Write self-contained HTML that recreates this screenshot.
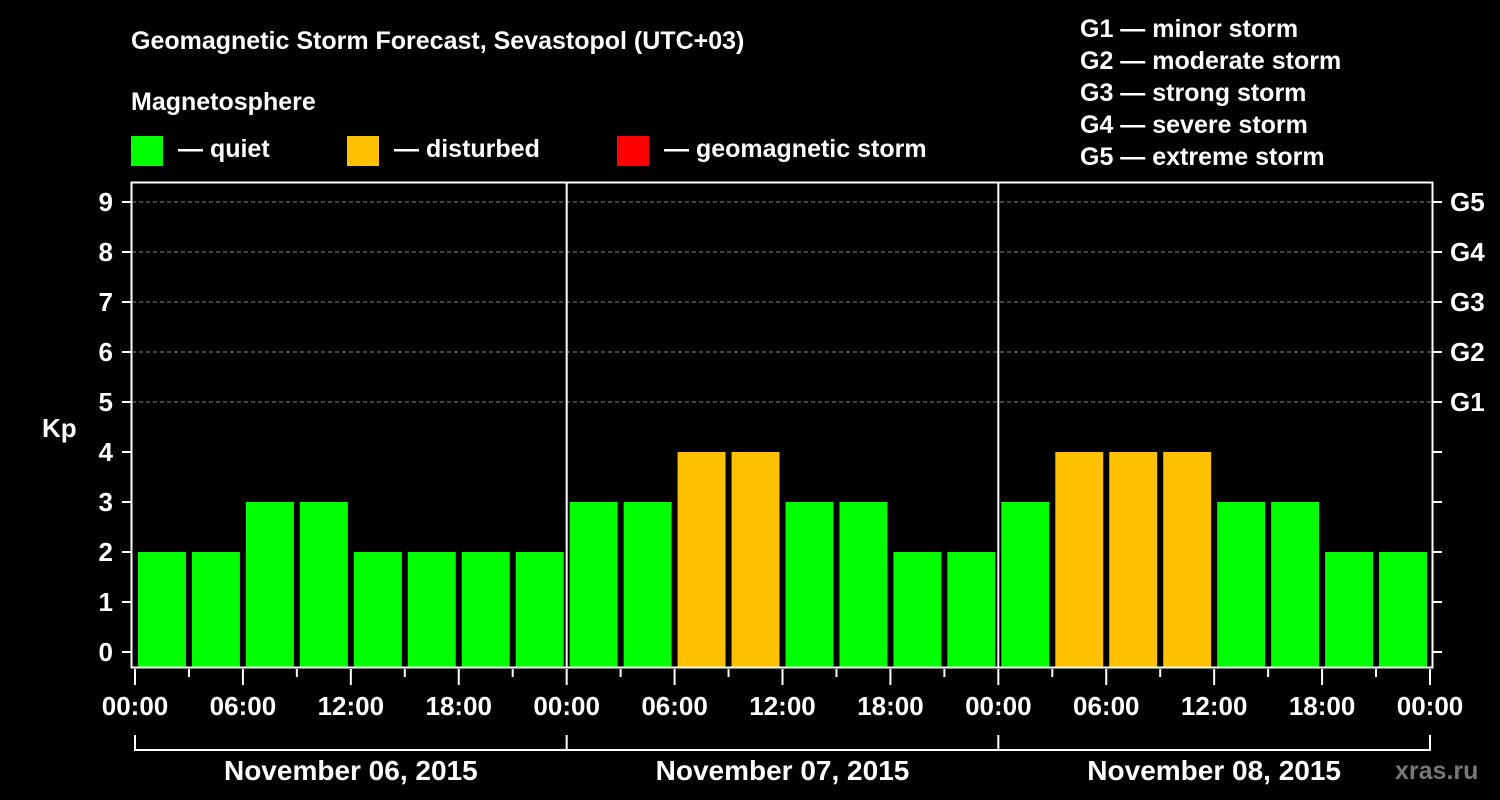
<!DOCTYPE html>
<html><head><meta charset="utf-8"><style>
html,body{margin:0;padding:0;background:#000;}
svg{display:block;font-family:"Liberation Sans",Arial,sans-serif;font-weight:bold;}
</style></head><body>
<svg id="chart" width="1500" height="800" viewBox="0 0 1500 800">
<text x="131" y="49" fill="#fff" font-size="25">Geomagnetic Storm Forecast, Sevastopol (UTC+03)</text>
<text x="131" y="110" fill="#fff" font-size="25">Magnetosphere</text>
<g><rect x="131" y="136" width="32" height="30" fill="#00ff00"/><text x="178" y="157" fill="#fff" font-size="25">— quiet</text></g>
<g><rect x="347" y="136" width="32" height="30" fill="#ffc000"/><text x="394" y="157" fill="#fff" font-size="25">— disturbed</text></g>
<g><rect x="617" y="136" width="32" height="30" fill="#ff0000"/><text x="664" y="157" fill="#fff" font-size="25">— geomagnetic storm</text></g>
<g fill="#fff" font-size="25">
<text x="1080" y="37">G1 — minor storm</text>
<text x="1080" y="69">G2 — moderate storm</text>
<text x="1080" y="101">G3 — strong storm</text>
<text x="1080" y="133">G4 — severe storm</text>
<text x="1080" y="165">G5 — extreme storm</text>
</g>
<text x="42" y="437" fill="#fff" font-size="26">Kp</text>
<text x="1395" y="779" fill="#777" font-size="25">xras.ru</text>
<g id="grid"></g><g id="bars"></g><g id="axes"></g>
</svg>
<script>
const kpValues = [2,2,3,3,2,2,2,2, 3,3,4,4,3,3,2,2, 3,4,4,4,3,3,2,2];
const dayLabels = ["November 06, 2015","November 07, 2015","November 08, 2015"];
const timeLabels = ["00:00","06:00","12:00","18:00"];
const gLabels = ["G1","G2","G3","G4","G5"];
const yTicks = [0,1,2,3,4,5,6,7,8,9];
const NS="http://www.w3.org/2000/svg";
const x0=135, x1=1430, hours=72;
const xs=h=>x0+(x1-x0)*h/hours;
const ys=v=>652-50*v;
function mk(parent,tag,attrs){const e=document.createElementNS(NS,tag);for(const k in attrs)e.setAttribute(k,attrs[k]);document.getElementById(parent).appendChild(e);return e;}
// grid
for(let v=5;v<=9;v++){const l=mk('grid','line',{x1:132,x2:1432,y1:ys(v),y2:ys(v),stroke:'#888','stroke-width':1,'stroke-dasharray':'4,3'});

}
// bars
kpValues.forEach((v,i)=>{const a=xs(i*3),b=xs(i*3+3);
const c=v>=5?'#ff0000':(v>=4?'#ffc000':'#00ff00');
const r=mk('bars','rect',{x:a+3,y:ys(v),width:b-a-6,height:667-ys(v),fill:c});

});
// frame
const f=mk('axes','rect',{x:131.5,y:182.5,width:1301,height:485,fill:'none',stroke:'#fff','stroke-width':2});


for(let d=1;d<3;d++){const l=mk('axes','line',{x1:xs(d*24),x2:xs(d*24),y1:182,y2:668,stroke:'#fff','stroke-width':2});

}
yTicks.forEach(v=>{mk('axes','line',{x1:122,x2:131,y1:ys(v),y2:ys(v),stroke:'#fff','stroke-width':2});
mk('axes','line',{x1:1433,x2:1442,y1:ys(v),y2:ys(v),stroke:'#fff','stroke-width':2});
const t=mk('axes','text',{x:113,y:ys(v)+9,fill:'#fff','font-size':26,'text-anchor':'end'});t.textContent=v;

});
gLabels.forEach((g,i)=>{const t=mk('axes','text',{x:1450,y:ys(5+i)+9,fill:'#fff','font-size':26});t.textContent=g;

});
for(let h=0;h<=72;h+=3){const major=h%6==0;mk('axes','line',{x1:xs(h),x2:xs(h),y1:669,y2:major?685:677,stroke:'#fff','stroke-width':2});
if(major&&h%6==0&&(h%24)%6==0){}
}
for(let h=0;h<=72;h+=6){const t=mk('axes','text',{x:xs(h),y:715,fill:'#fff','font-size':26,'text-anchor':'middle'});t.textContent=timeLabels[(h%24)/6];

}
mk('axes','line',{x1:xs(0),x2:xs(72),y1:750,y2:750,stroke:'#fff','stroke-width':2});
for(let d=0;d<=3;d++)mk('axes','line',{x1:xs(d*24),x2:xs(d*24),y1:735,y2:751,stroke:'#fff','stroke-width':2});
dayLabels.forEach((s,d)=>{const t=mk('axes','text',{x:xs(d*24+12),y:780,fill:'#fff','font-size':28,'text-anchor':'middle'});t.textContent=s;

});
</script>
</body></html>
